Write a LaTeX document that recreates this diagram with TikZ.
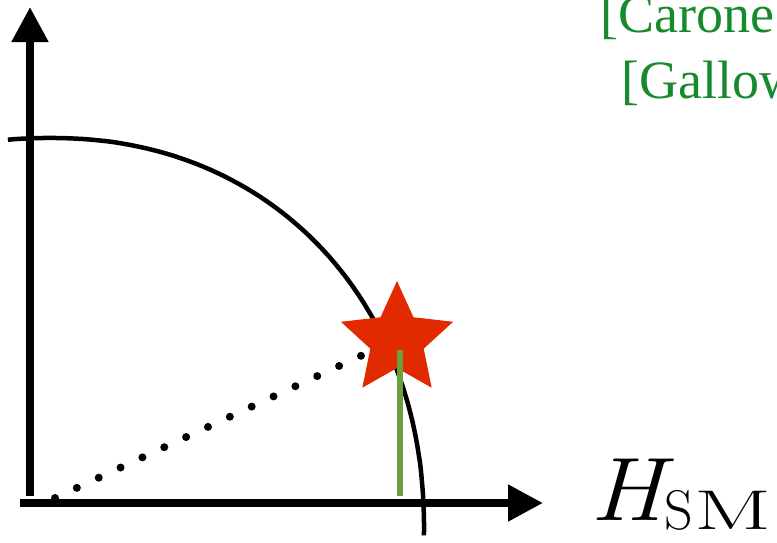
\documentclass[tikz,border=0pt]{standalone}
\usepackage{fontspec}
\usepackage{graphicx}
\usepackage{tikz}
\usetikzlibrary{arrows.meta,positioning,calc,shapes.geometric}
\newfontfamily\refserif{Liberation Serif}
\definecolor{ink}{HTML}{000000}
\definecolor{refgreen}{HTML}{178A2D}
\definecolor{vevgreen}{HTML}{6A9F3C}
\definecolor{starred}{HTML}{E22A00}
\newcommand{\hsmlabel}{\scalebox{1.12}[1]{\itshape H}\kern1pt\raisebox{-9pt}{\fontsize{56}{60}\selectfont S\kern1pt\scalebox{1.62}[1]{M}}}
\tikzset{
  axis/.style={line width=8pt, draw=ink, -{Triangle[length=35pt,width=35pt]}},
  curve/.style={line width=4.5pt, draw=ink},
  dots/.style={line width=8pt, draw=ink, line cap=round, dash pattern=on 0pt off 24.1pt},
  vev/.style={line width=6.5pt, draw=vevgreen},
  starmark/.style={star, star points=5, star point ratio=2.1, minimum size=118pt, inner sep=0pt, fill=starred, draw=none},
  cite/.style={font=\refserif\fontsize{54}{64}\selectfont, text=refgreen, anchor=base west, inner sep=0pt},
  lab/.style={font=\fontsize{90}{100}\selectfont, text=ink, anchor=base west, inner sep=0pt},
}
\begin{document}
\begin{tikzpicture}[x=1pt,y=-1pt]
        \useasboundingbox (0,0) rectangle (777,542);
        \coordinate (ytail) at (30,496);
        \coordinate (ytip) at (30,7);
        \coordinate (xtail) at (20,503);
        \coordinate (xtip) at (543,503);
        % boundary of the allowed region (slightly squared ellipse)
        \draw[curve] plot[domain=95.6:-0.6, samples=140, variable=\t]
          ({50+374*sign(cos(\t))*abs(cos(\t))^0.939}, {530-392*sign(sin(\t))*abs(sin(\t))^0.939});
        \node[starmark] (best) at (397,340) {};
        \coordinate (zero) at (55,498);
        \coordinate (tip) at (382,346);
        \draw[dots] (zero) -- (tip);
        \coordinate (vtop) at (400,350);
        \coordinate (vbot) at (400,496);
        \draw[vev] (vtop) -- (vbot);
        % axes
        \draw[axis] (ytail) -- (ytip);
        \draw[axis] (xtail) -- (xtip);
        \node[lab] (hsm) at (590,520) {\hsmlabel};
        \node[cite] (carone) at (600,32) {[Carone};
        \node[cite] (galloway) at (621,98) {[Gallow};
      \end{tikzpicture}
\end{document}
